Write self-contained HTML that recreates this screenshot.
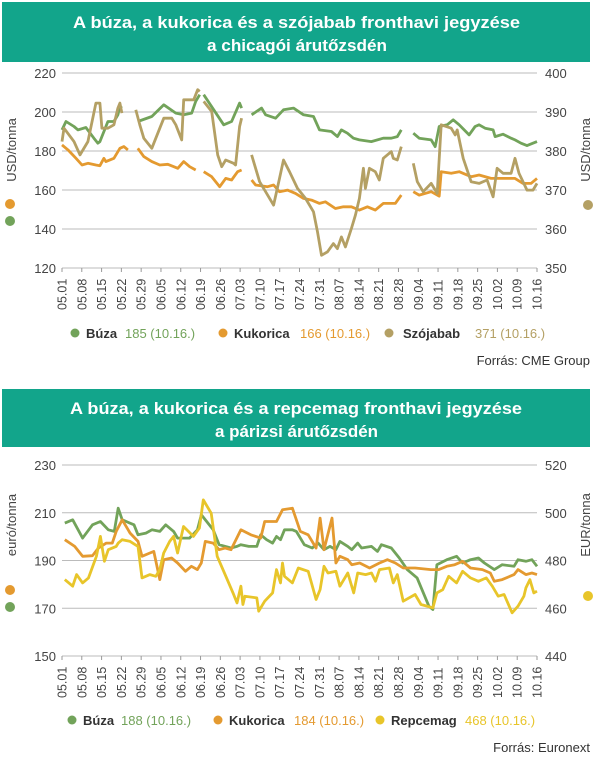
<!DOCTYPE html><html><head><meta charset="utf-8"><style>
body{margin:0;background:#fff;font-family:"Liberation Sans",sans-serif}
svg{display:block}
</style></head><body>
<svg id="s" width="612" height="764" xmlns="http://www.w3.org/2000/svg" font-family="Liberation Sans, sans-serif">
<rect x="2" y="2" width="588" height="60" fill="#12a58b"/>
<text x="73" y="28" fill="#fff" font-size="17" font-weight="bold" textLength="447" lengthAdjust="spacingAndGlyphs">A búza, a kukorica és a szójabab fronthavi jegyzése</text>
<text x="207" y="51" fill="#fff" font-size="17" font-weight="bold" textLength="180" lengthAdjust="spacingAndGlyphs">a chicagói árutőzsdén</text>
<rect x="2" y="389" width="588" height="58" fill="#12a58b"/>
<text x="70" y="414" fill="#fff" font-size="17" font-weight="bold" textLength="452" lengthAdjust="spacingAndGlyphs">A búza, a kukorica és a repcemag fronthavi jegyzése</text>
<text x="215" y="437" fill="#fff" font-size="17" font-weight="bold" textLength="163" lengthAdjust="spacingAndGlyphs">a párizsi árutőzsdén</text>
<g id="g"></g>
<text transform="translate(16,150) rotate(-90)" font-size="13" fill="#444" text-anchor="middle">USD/tonna</text>
<circle cx="10" cy="204" r="5" fill="#e49a30"/><circle cx="10" cy="221" r="5" fill="#72a35a"/>
<text transform="translate(590,150) rotate(-90)" font-size="13" fill="#444" text-anchor="middle">USD/tonna</text>
<circle cx="588" cy="205" r="5" fill="#b4a064"/>
<text transform="translate(16,525) rotate(-90)" font-size="13" fill="#444" text-anchor="middle">euró/tonna</text>
<circle cx="10" cy="590" r="5" fill="#e49a30"/><circle cx="10" cy="607" r="5" fill="#72a35a"/>
<text transform="translate(590,525) rotate(-90)" font-size="13" fill="#444" text-anchor="middle">EUR/tonna</text>
<circle cx="588" cy="596" r="5" fill="#e8c52a"/>
<g font-size="13">
<circle cx="75" cy="333" r="4.5" fill="#72a35a"/><text x="86" y="338" font-weight="bold" fill="#333">Búza</text><text x="125" y="338" fill="#72a35a">185 (10.16.)</text>
<circle cx="223" cy="333" r="4.5" fill="#e49a30"/><text x="234" y="338" font-weight="bold" fill="#333">Kukorica</text><text x="300" y="338" fill="#e49a30">166 (10.16.)</text>
<circle cx="389" cy="333" r="4.5" fill="#b4a064"/><text x="403" y="338" font-weight="bold" fill="#333">Szójabab</text><text x="475" y="338" fill="#b4a064">371 (10.16.)</text>
<text x="590" y="365" text-anchor="end" fill="#333">Forrás: CME Group</text>
<circle cx="72" cy="720" r="4.5" fill="#72a35a"/><text x="83" y="725" font-weight="bold" fill="#333">Búza</text><text x="121" y="725" fill="#72a35a">188 (10.16.)</text>
<circle cx="218" cy="720" r="4.5" fill="#e49a30"/><text x="229" y="725" font-weight="bold" fill="#333">Kukorica</text><text x="294" y="725" fill="#e49a30">184 (10.16.)</text>
<circle cx="380" cy="720" r="4.5" fill="#e8c52a"/><text x="391" y="725" font-weight="bold" fill="#333">Repcemag</text><text x="465" y="725" fill="#e8c52a">468 (10.16.)</text>
<text x="590" y="752" text-anchor="end" fill="#333">Forrás: Euronext</text>
</g>
</svg>
<script>
var g=document.getElementById('g'),h='';
var X0=62,X1=537;
var dates=['05.01','05.08','05.15','05.22','05.29','06.05','06.12','06.19','06.26','07.03','07.10','07.17','07.24','07.31','08.07','08.14','08.21','08.28','09.04','09.11','09.18','09.25','10.02','10.09','10.16'];
function axes(top,bot,L,R,lt){
 for(var i=0;i<L.length;i++){var y=top+(bot-top)*i/(L.length-1);
  h+='<line x1="'+X0+'" x2="'+X1+'" y1="'+y+'" y2="'+y+'" stroke="#bbb" stroke-width="1"/>';
  h+='<text x="'+(X0-6)+'" y="'+(y+5)+'" font-size="13" fill="#444" text-anchor="end">'+L[i]+'</text>';
  h+='<text x="'+(X1+8)+'" y="'+(y+5)+'" font-size="13" fill="#444">'+R[i]+'</text>';}
 for(var d=0;d<=168;d+=1){var x=X0+d*(X1-X0)/168;if(d%7==0){h+='<line x1="'+x+'" x2="'+x+'" y1="'+bot+'" y2="'+(bot+4)+'" stroke="#999"/>';
  h+='<text transform="translate('+(x+4.5)+','+(bot+42)+') rotate(-90)" font-size="12.5" fill="#444">'+dates[d/7]+'</text>';}}
}
axes(73,268,[220,200,180,160,140,120],[400,390,380,370,360,350]);
axes(465,656,[230,210,190,170,150],[520,500,480,460,440]);
function ser(str,zx0,zx1,zy0,zy1,y0,y1,col){
 var segs=str.split('|');
 segs.forEach(function(s){var a=s.trim().split(/[ ,]+/).map(Number),p=[];
  for(var i=0;i<a.length;i+=2){p.push((X0+(a[i]-zx0)*(X1-X0)/(zx1-zx0)).toFixed(1)+','+(y0+(a[i+1]-zy0)*(y1-y0)/(zy1-zy0)).toFixed(1));}
  h+='<polyline points="'+p.join(' ')+'" fill="none" stroke="'+col+'" stroke-width="2.8" stroke-linejoin="round"/>';});
}
function c1(s,c){ser(s,155,1345,45,628,73,268,c);}
function c2(s,c){ser(s,148,1348,45,620,465,656,c);}
c1('155 260 170 275 190 300 205 320 220 315 240 320 250 322 260 300 265 310 285 300 300 270 310 265 320 275|345 270 360 295 380 310 400 320 420 318 435 325 445 330 460 310 475 325 490 335|510 340 530 355 550 385 565 360 580 365 595 340 605 335|630 365 640 380 670 385 685 380 700 400 720 395 740 405 760 420 780 425 800 435 815 430 840 450 860 445 880 445 900 455 920 445 940 455 960 435 990 435 1005 410|1035 400 1050 410 1080 400 1100 413 1105 340 1130 345 1150 340 1180 355 1200 350 1230 360 1260 360 1290 360 1310 375 1330 375 1345 360','#e49a30');
c1('155 215 165 190 185 205 195 215 215 208 235 240 245 255 250 250 270 190 285 190 295 170 300 145 305 150|345 190 380 175 410 140 440 165 460 170 480 165 490 130 500 110|510 110 560 200 580 190 600 135 605 150|630 170 655 150 665 170 690 180 710 155 735 150 760 170 785 175 800 215 830 220 845 235 855 215 870 225 885 240 900 245 930 250 960 240 980 240 995 235 1005 215|1035 225 1050 240 1080 245 1090 265 1100 205 1120 200 1135 185 1150 200 1175 230 1190 205 1200 200 1215 210 1235 215 1240 235 1260 228 1280 240 1290 245 1305 255 1320 262 1345 250','#72a35a');
c1('155 250 160 210 185 250 200 290 220 250 240 135 250 135 255 210 270 210 285 200 295 150 300 135 305 165|340 155 350 200 360 240 380 270 400 210 410 180 430 180 440 200 455 245 460 125 485 125 495 95 500 100|510 130 530 160 545 290 555 325 565 305 585 315 590 320 600 205 605 180|630 290 640 330 650 370 665 400 685 440 700 360 710 305 725 340 745 390 765 420 785 460 795 520 805 590 820 580 835 555 845 570 855 535 865 565 880 510 890 470 900 420 910 330 915 390 925 330 940 340 950 365 960 300 980 280 985 300 995 305 1005 265|1035 315 1045 370 1060 400 1080 375 1095 405 1105 200 1130 210 1140 230 1145 215 1160 300 1180 370 1200 375 1220 365 1235 415 1245 330 1260 345 1280 345 1290 300 1300 345 1320 395 1335 395 1345 375','#b4a064');
c2('155 220 175 210 200 265 225 225 245 215 265 240 280 245 290 175 300 210 330 225 340 255 360 250 375 240 395 245 410 225 430 245 440 265 470 265 490 240 500 195 530 240 545 285 575 295 590 290 600 285 620 290 640 290 650 255 665 270 680 280 690 260 700 270 710 240 730 240 740 245 760 285 780 295 795 280 810 300 825 290 840 300 850 275 870 290 880 300 895 280 905 295 930 290 945 305 955 285 980 295 1000 325 1020 360 1045 385 1075 470 1085 480 1095 345 1120 330 1145 320 1160 340 1180 330 1200 325 1215 340 1240 360 1260 345 1290 350 1300 330 1320 335 1335 330 1348 350','#72a35a');
c2('155 270 180 290 200 320 225 318 240 295 260 280 275 280 285 245 300 210 320 250 340 275 350 320 370 310 380 305 395 390 405 330 425 325 440 340 460 365 475 350 490 360 500 340 510 275 530 280 545 300 560 295 575 300 600 240 625 255 650 265 660 215 690 215 705 180 730 175 750 245 770 255 790 295 800 205 810 300 830 205 840 340 850 320 870 330 880 345 900 340 925 355 950 340 970 330 990 340 1010 355 1040 355 1080 360 1100 360 1120 350 1140 345 1160 335 1180 355 1210 360 1230 370 1240 395 1260 390 1290 375 1300 360 1320 375 1335 370 1348 375','#e49a30');
c2('155 390 175 410 185 375 200 400 215 385 235 320 245 260 255 335 265 300 285 290 290 280 300 270 320 275 340 290 350 385 370 375 385 380 395 360 405 310 420 275 430 260 440 310 455 230 480 260 495 235 505 150 525 190 540 320 560 375 580 430 590 460 600 410 605 465 610 440 640 445 645 485 660 455 680 430 690 360 700 400 705 340 710 380 730 400 745 355 770 365 790 450 800 420 810 350 820 370 840 365 850 410 870 370 885 430 895 370 915 375 930 370 940 395 950 360 975 355 985 400 995 375 1010 455 1040 435 1055 465 1085 475 1095 430 1110 420 1125 380 1145 400 1160 365 1180 385 1200 395 1220 385 1235 410 1250 440 1265 435 1285 490 1300 470 1315 440 1320 415 1330 390 1340 430 1348 425','#e8c52a');
g.innerHTML=h;
</script>
</body></html>
